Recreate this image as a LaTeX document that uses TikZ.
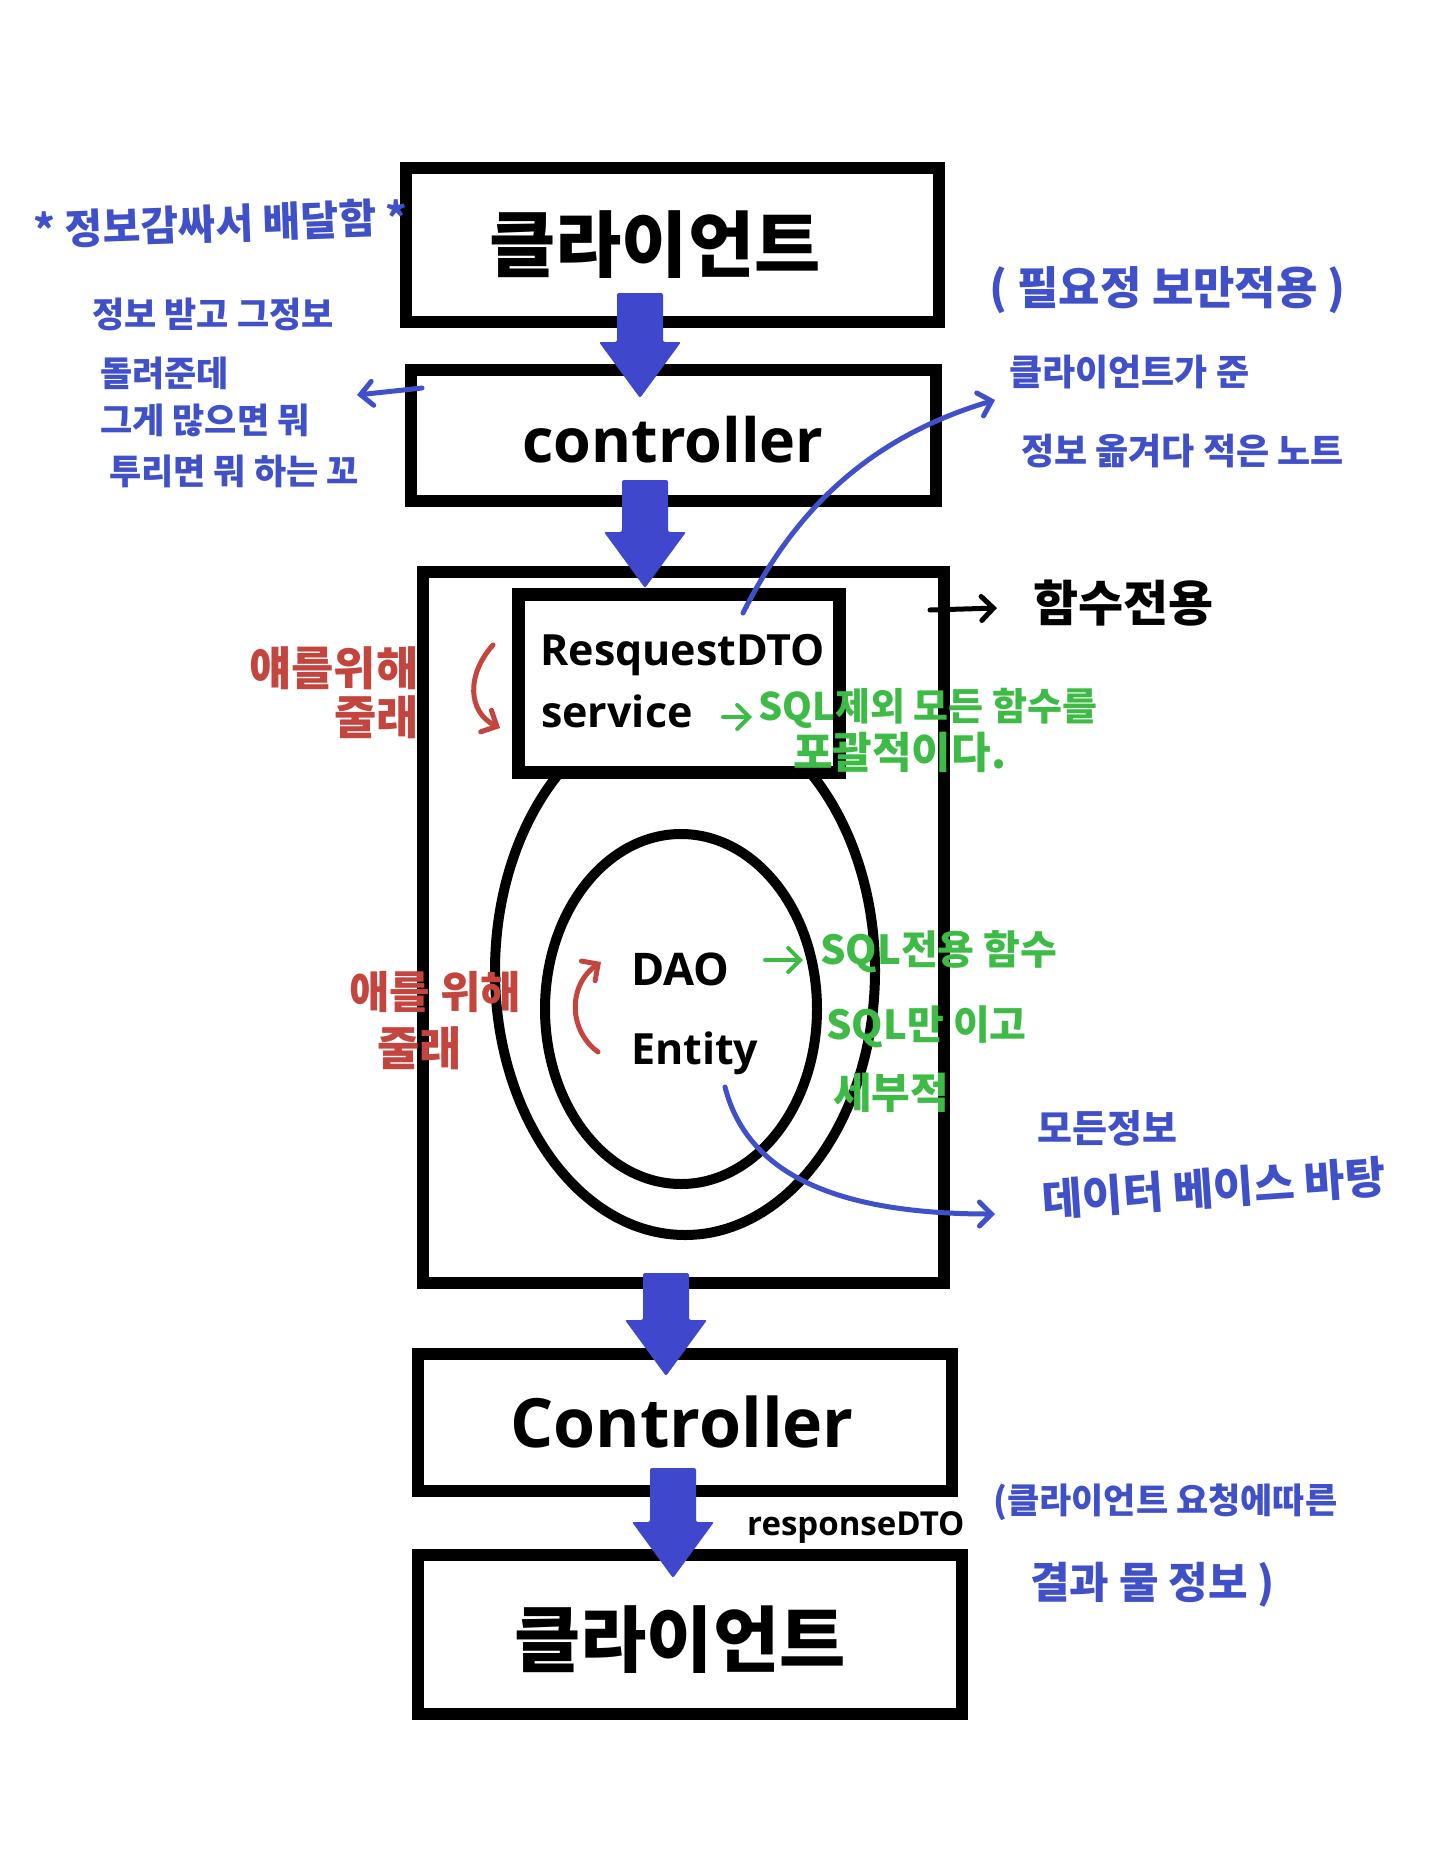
\documentclass[tikz,border=0pt]{standalone}
\usepackage{fontspec}
\usetikzlibrary{calc,shapes.geometric,arrows.meta}
\setmainfont{Noto Sans CJK KR}
\newfontfamily\kr{Noto Sans CJK KR}
\newfontfamily\lat{Open Sans}
\definecolor{hblue}{RGB}{64,80,200}
\definecolor{ablue}{RGB}{63,72,204}
\definecolor{hred}{RGB}{196,68,62}
\definecolor{hgreen}{RGB}{62,186,70}
\newcommand\blockarr[2]{%
  \fill[ablue, rounded corners=2pt] ($(#1)+(-23,0)$) -- ($(#2)+(-23,-56)$) -- ($(#2)+(-41,-56)$) -- (#2) -- ($(#2)+(41,-56)$) -- ($(#2)+(23,-56)$) -- ($(#1)+(23,0)$) -- cycle;}
\newcommand\hw[1]{\kr\bfseries\fontsize{#1}{#1}\selectfont}
\tikzset{
  boxnode/.style={draw, line width=12pt, inner sep=0pt, rectangle, fill=white},
  egg/.style={draw, line width=10pt, ellipse, inner sep=0pt},
  hand/.style={inner sep=0pt, anchor=west},
  pen/.style={line width=5pt, line cap=round, line join=round},
  barb/.style={-{Straight Barb[length=12pt,width=24pt,line cap=round]}},
}
\begin{document}
\begin{tikzpicture}[x=1pt,y=-1pt]
\fill[white] (0,0) rectangle (1445,1857);
\useasboundingbox (0,0) rectangle (1445,1857);

% main boxes
\node[boxnode, minimum width=533pt, minimum height=154pt] (client1) at (672.5,245) {};
\node[boxnode, minimum width=525pt, minimum height=131pt] (ctrl1) at (673.5,435.5) {};
\node[boxnode, minimum width=521pt, minimum height=711pt] (big) at (683.5,927.5) {};
\node[egg, minimum width=380pt, minimum height=528pt] (outerEgg) at (685,971) {};
\node[egg, minimum width=272pt, minimum height=350pt] (innerEgg) at (681,1009) {};
\node[boxnode, line width=13pt, minimum width=321pt, minimum height=178pt] (inner) at (678.5,683) {};
\node[boxnode, minimum width=534pt, minimum height=137pt] (ctrl2) at (685,1422.5) {};
\node[boxnode, minimum width=544pt, minimum height=159pt] (client2) at (690,1634.5) {};

% box texts
\node[inner sep=0pt, font=\kr\bfseries\fontsize{72}{80}\selectfont] (t1) at (655,245) {클라이언트};
\node[inner sep=0pt, anchor=base, font=\lat\bfseries\fontsize{61}{70}\selectfont] (t2) at (673,462) {controller};
\node[inner sep=0pt, anchor=base west, font=\lat\bfseries\fontsize{43}{50}\selectfont] (t3) at (540,665) {ResquestDTO};
\node[inner sep=0pt, anchor=base west, font=\lat\bfseries\fontsize{43}{50}\selectfont] (t4) at (541,727) {service};
\node[inner sep=0pt, anchor=base west, font=\lat\bfseries\fontsize{45}{50}\selectfont] (t5) at (631,985) {DAO};
\node[inner sep=0pt, anchor=base west, font=\lat\bfseries\fontsize{43}{50}\selectfont] (t6) at (631,1064) {Entity};
\node[inner sep=0pt, anchor=base, font=\lat\bfseries\fontsize{68}{75}\selectfont] (t7) at (682,1447) {Controller};
\node[inner sep=0pt, anchor=base west, font=\lat\bfseries\fontsize{33}{40}\selectfont] (t8) at (747,1535) {responseDTO};
\node[inner sep=0pt, font=\kr\bfseries\fontsize{72}{80}\selectfont] (t9) at (680,1640) {클라이언트};

% block arrows
\coordinate (a1s) at (640,293); \coordinate (a1e) at (640,398);
\coordinate (a2s) at (645,480); \coordinate (a2e) at (645,588);
\coordinate (a3s) at (666,1273); \coordinate (a3e) at (666,1376);
\coordinate (a4s) at (673,1468); \coordinate (a4e) at (673,1578);
\blockarr{a1s}{a1e}
\blockarr{a2s}{a2e}
\blockarr{a3s}{a3e}
\blockarr{a4s}{a4e}

% blue notes
\node[hand, text=hblue, font=\hw{41}, rotate=2] (n1) at (34,230) {* 정보감싸서 배달함 *};
\node[hand, text=hblue, font=\hw{35}] (n2) at (92,314) {정보 받고 그정보};
\node[hand, text=hblue, font=\hw{35}] (n3) at (100,373) {돌려준데};
\node[hand, text=hblue, font=\hw{35}] (n4) at (100,420) {그게 많으면 뭐};
\node[hand, text=hblue, font=\hw{35}] (n5) at (109,471) {투리면 뭐 하는 꼬};
\coordinate (n2tail) at (422,388);
\coordinate (n2tip) at (357,395);
\draw[pen, barb, hblue] (n2tail) -- (n2tip);

\node[hand, text=hblue, font=\hw{45}] (n6) at (989,290) {( 필요정 보만적용 )};
\node[hand, text=hblue, font=\hw{36}] (n7) at (1009,372) {클라이언트가 준};
\node[hand, text=hblue, font=\hw{36}] (n8) at (1021,451) {정보 옮겨다 적은 노트};
\coordinate (c1s) at (743,613);
\coordinate (c1e) at (995,400);
\draw[pen, barb, hblue] (c1s) .. controls (790,520) and (860,440) .. (c1e);

% black note
\node[hand, text=black, font=\hw{49}] (n9) at (1033,603) {함수전용};
\coordinate (k1s) at (930,610);
\draw[pen, barb, black] (k1s) -- ($(n9.west)+(-36,5)$);

% red notes
\node[hand, text=hred, font=\hw{46}] (r1) at (249,668) {얘를위해};
\node[hand, text=hred, font=\hw{46}] (r2) at (334,717) {줄래};
\coordinate (r1s) at (493,645);
\coordinate (r1e) at (500,728);
\draw[pen, barb, hred] (r1s) .. controls (466,675) and (468,712) .. (r1e);
\node[hand, text=hred, font=\hw{44}] (r3) at (349,992) {애를 위해};
\node[hand, text=hred, font=\hw{46}] (r4) at (377,1048) {줄래};
\coordinate (r2s) at (598,1052);
\coordinate (r2e) at (601,962);
\draw[pen, barb, hred] (r2s) .. controls (568,1030) and (568,985) .. (r2e);

% green notes
\coordinate (g1s) at (723,717);
\node[hand, text=hgreen, font=\hw{38}] (g1) at (758,708) {SQL제외 모든 함수를};
\draw[pen, barb, hgreen, line width=4pt] (g1s) -- ($(g1.west)+(-6,9)$);
\node[hand, text=hgreen, font=\hw{43}] (g2) at (793,752) {포괄적이다.};
\coordinate (g3s) at (765,960);
\node[hand, text=hgreen, font=\hw{40}] (g3) at (820,952) {SQL전용 함수};
\draw[pen, barb, hgreen, line width=4pt] (g3s) -- ($(g3.west)+(-17,8)$);
\node[hand, text=hgreen, font=\hw{40}] (g4) at (826,1027) {SQL만 이고};
\node[hand, text=hgreen, font=\hw{42}] (g5) at (833,1093) {세부적};

% blue bottom notes
\coordinate (c2s) at (725,1087);
\coordinate (c2e) at (995,1214);
\draw[pen, barb, hblue] (c2s) .. controls (745,1165) and (820,1214) .. (c2e);
\node[hand, text=hblue, font=\hw{38}] (b1) at (1037,1128) {모든정보};
\node[hand, text=hblue, font=\hw{44}, rotate=4] (b2) at (1042,1200) {데이터 베이스 바탕};
\node[hand, text=hblue, font=\hw{35}] (b3) at (993,1502) {(클라이언트 요청에따른};
\node[hand, text=hblue, font=\hw{43}] (b4) at (1030,1585) {결과 물 정보 )};
\end{tikzpicture}
\end{document}
